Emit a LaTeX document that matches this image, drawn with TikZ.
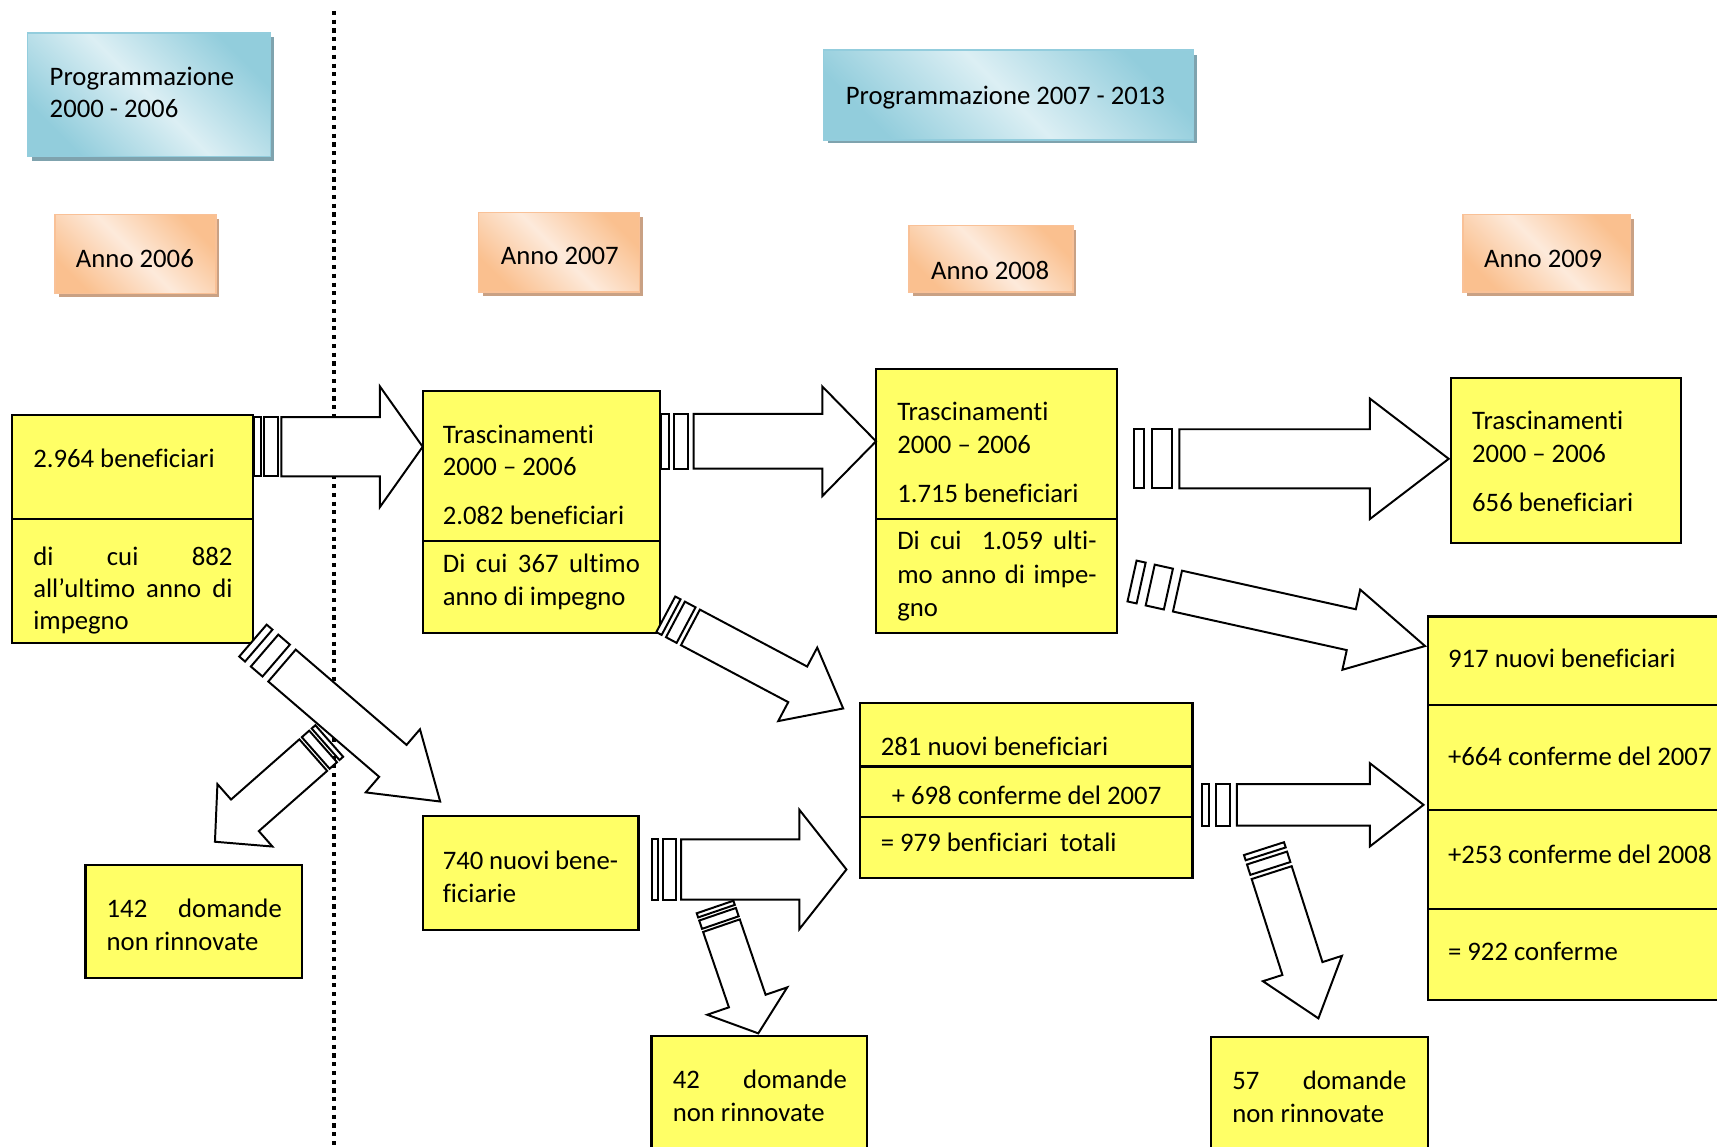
\documentclass[tikz,border=0pt]{standalone}
\usepackage{fontspec}
\setmainfont{Carlito}[Ligatures={NoCommon}]
\usetikzlibrary{fit,calc}
\definecolor{yfill}{HTML}{FFFF66}
\definecolor{bdark}{HTML}{92CDDC}
\definecolor{blight}{HTML}{DCEFF4}
\definecolor{bborder}{HTML}{93CDDD}
\definecolor{bshadow}{HTML}{7FA3AE}
\definecolor{odark}{HTML}{FAC08F}
\definecolor{olight}{HTML}{FDEADB}
\definecolor{oborder}{HTML}{F9C197}
\definecolor{oshadow}{HTML}{C9A184}
\newcommand\fs{\fontsize{12.2}{14.8}\selectfont}
\newcommand\jl[2]{\makebox[#1pt][s]{#2}}
\newcommand\sarrow[9]{%
  \pgfmathsetmacro\sang{atan2(#2-#4,#3-#1)}%
  \pgfmathsetmacro\slen{veclen(#3-#1,#4-#2)}%
  \begin{scope}[shift={(#1,#2)}, rotate=\sang]
    \draw[arr] (0,-#5) rectangle (#8,#5);
    \draw[arr] (#8+#9,-#5) rectangle (3*#8+#9,#5);
    \draw[arr] (3*#8+2*#9,-#5) -- (\slen-#7,-#5) -- (\slen-#7,-#6) -- (\slen,0)
      -- (\slen-#7,#6) -- (\slen-#7,#5) -- (3*#8+2*#9,#5) -- cycle;
  \end{scope}}
\begin{document}
\begin{tikzpicture}[x=0.5pt,y=-0.5pt,
  ybox/.style={draw=black, line width=1pt, fill=yfill, inner sep=0pt},
  txt/.style={anchor=base west, inner sep=0pt, font=\fs},
  arr/.style={draw=black, fill=white, line width=0.9pt, line join=miter},
  bluebox/.style={draw=bborder, line width=0.8pt, top color=bdark, bottom color=bdark, middle color=blight, shading angle=-45, inner sep=0pt},
  orbox/.style={draw=oborder, line width=0.8pt, top color=odark, bottom color=odark, middle color=olight, shading angle=-45, inner sep=0pt},
  divl/.style={draw=black, line width=1pt},
  dotl/.style={draw=black, line width=1.9pt, dash pattern=on 1.9pt off 2.1pt}]
\clip (0,0) rectangle (1568,1046.6);
\fill[white] (0,0) rectangle (1568,1046.6);

% headers
\fill[bshadow] (29,34) rectangle (250,147);
\node[bluebox, fit={(25,30) (247,143)}] (P1) {};
\node[txt] (P1a) at (45,78) {Programmazione};
\node[txt] (P1b) at (45,107) {2000 - 2006};

\fill[bshadow] (756,50) rectangle (1093,131);
\node[bluebox, fit={(752,46) (1090,128)}] (P2) {};
\node[txt] (P2a) at (772,95) {Programmazione 2007 - 2013};

\fill[oshadow] (54,200) rectangle (200,271);
\node[orbox, fit={(50,196) (197,268)}] (O1) {};
\node[txt] (O1a) at (69,244) {Anno 2006};
\fill[oshadow] (441,198) rectangle (587,270);
\node[orbox, fit={(437,194) (584,267)}] (O2) {};
\node[txt] (O2a) at (457,242) {Anno 2007};
\fill[oshadow] (834,210) rectangle (983,270);
\node[orbox, fit={(830,206) (980,267)}] (O3) {};
\node[txt] (O3a) at (850,255) {Anno 2008};
\fill[oshadow] (1340,200) rectangle (1492,270);
\node[orbox, fit={(1336,196) (1489,267)}] (O4) {};
\node[txt] (O4a) at (1355,244) {Anno 2009};

% dotted separator
\coordinate (s1) at (305,10);
\coordinate (s2) at (305,1060);
\draw[dotl] (s1) -- (s2);

% yellow boxes
\node[ybox, fit={(11,379) (231,587)}] (A) {};
\draw[divl] (11,474) -- (231,474);
\node[txt] (Aa) at (30,427) {2.964 beneficiari};
\node[txt] (Ab) at (30,516) {\jl{91}{di cui 882}};
\node[txt] (Ac) at (30,546) {\jl{91}{all’ultimo anno di}};
\node[txt] (Ad) at (30,575) {impegno};

\node[ybox, fit={(386,357) (603,578)}] (B) {};
\draw[divl] (386,494) -- (603,494);
\node[txt] (Ba) at (404,405) {Trascinamenti};
\node[txt] (Bb) at (404,434) {2000 – 2006};
\node[txt] (Bc) at (404,479) {2.082 beneficiari};
\node[txt] (Bd) at (404,523) {\jl{90}{Di cui 367 ultimo}};
\node[txt] (Be) at (404,553) {anno di impegno};

\node[ybox, fit={(800,337) (1020,578)}] (C) {};
\draw[divl] (800,474) -- (1020,474);
\node[txt] (Ca) at (819,384) {Trascinamenti};
\node[txt] (Cb) at (819,414) {2000 – 2006};
\node[txt] (Cc) at (819,459) {1.715 beneficiari};
\node[txt] (Cd) at (819,502) {\jl{91}{Di cui~ 1.059 ulti-}};
\node[txt] (Ce) at (819,533) {\jl{91}{mo anno di impe-}};
\node[txt] (Cf) at (819,563) {gno};

\node[ybox, fit={(1325,345) (1535,496)}] (D) {};
\node[txt] (Da) at (1344,392) {Trascinamenti};
\node[txt] (Db) at (1344,422) {2000 – 2006};
\node[txt] (Dc) at (1344,467) {656 beneficiari};

\node[ybox, fit={(785,642) (1089,802)}] (E) {};
\draw[divl] (785,700) -- (1089,700);
\draw[divl] (785,746) -- (1089,746);
\node[txt] (Ea) at (804,690) {281 nuovi beneficiari};
\node[txt] (Eb) at (814,735) {+ 698 conferme del 2007};
\node[txt] (Ec) at (804,778) {= 979 benficiari~ totali};

\node[ybox, fit={(1304,563) (1590,913)}] (F) {};
\draw[divl] (1304,644) -- (1590,644);
\draw[divl] (1304,740) -- (1590,740);
\draw[divl] (1304,830) -- (1590,830);
\node[txt] (Fa) at (1322,610) {917 nuovi beneficiari};
\node[txt] (Fb) at (1322,699) {+664 conferme del 2007};
\node[txt] (Fc) at (1322,789) {+253 conferme del 2008};
\node[txt] (Fd) at (1322,877) {= 922 conferme};

\node[ybox, fit={(78,790) (276,893)}] (G) {};
\node[txt] (Ga) at (97,838) {\jl{80}{142 domande}};
\node[txt] (Gb) at (97,868) {non rinnovate};

\node[ybox, fit={(386,745) (583,849)}] (H) {};
\node[txt] (Ha) at (404,794) {\jl{80}{740 nuovi bene-}};
\node[txt] (Hb) at (404,824) {ficiarie};

\node[ybox, fit={(595,946) (792,1070)}] (I) {};
\node[txt] (Ia) at (614,994) {\jl{79.5}{42 domande}};
\node[txt] (Ib) at (614,1024) {non rinnovate};

\node[ybox, fit={(1106,947) (1304,1070)}] (J) {};
\node[txt] (Ja) at (1125,995) {\jl{79.5}{57 domande}};
\node[txt] (Jb) at (1125,1025) {non rinnovate};

% striped block arrows
\sarrow{232}{408}{386}{408}{27}{55}{39}{6}{3.5}
\sarrow{604}{403}{800}{403}{25}{50}{49}{6.5}{5}
\sarrow{1036}{419}{1323}{419}{27}{55}{72}{9}{7}
\sarrow{1033.8}{530.6}{1301.4}{590}{19.1}{37.5}{69}{8.5}{8.5}
\sarrow{608}{561}{770}{647}{18.4}{38}{47}{5.5}{4.5}
\sarrow{231}{585}{402}{732}{19.2}{38}{57}{7}{7}
\sarrow{300.7}{676.7}{196.3}{768.7}{19.2}{38}{36.5}{4.5}{3}
\sarrow{595}{794}{773}{794}{27.5}{54.5}{43}{6}{4.5}
\sarrow{1098}{735}{1300}{735}{19}{38}{49}{6.5}{6}
\sarrow{653}{828.3}{692.5}{943.7}{17.7}{38.6}{31.2}{4}{3}
\sarrow{1154.3}{775}{1204}{930}{19.2}{37.9}{47.8}{5}{4}
\end{tikzpicture}
\end{document}
